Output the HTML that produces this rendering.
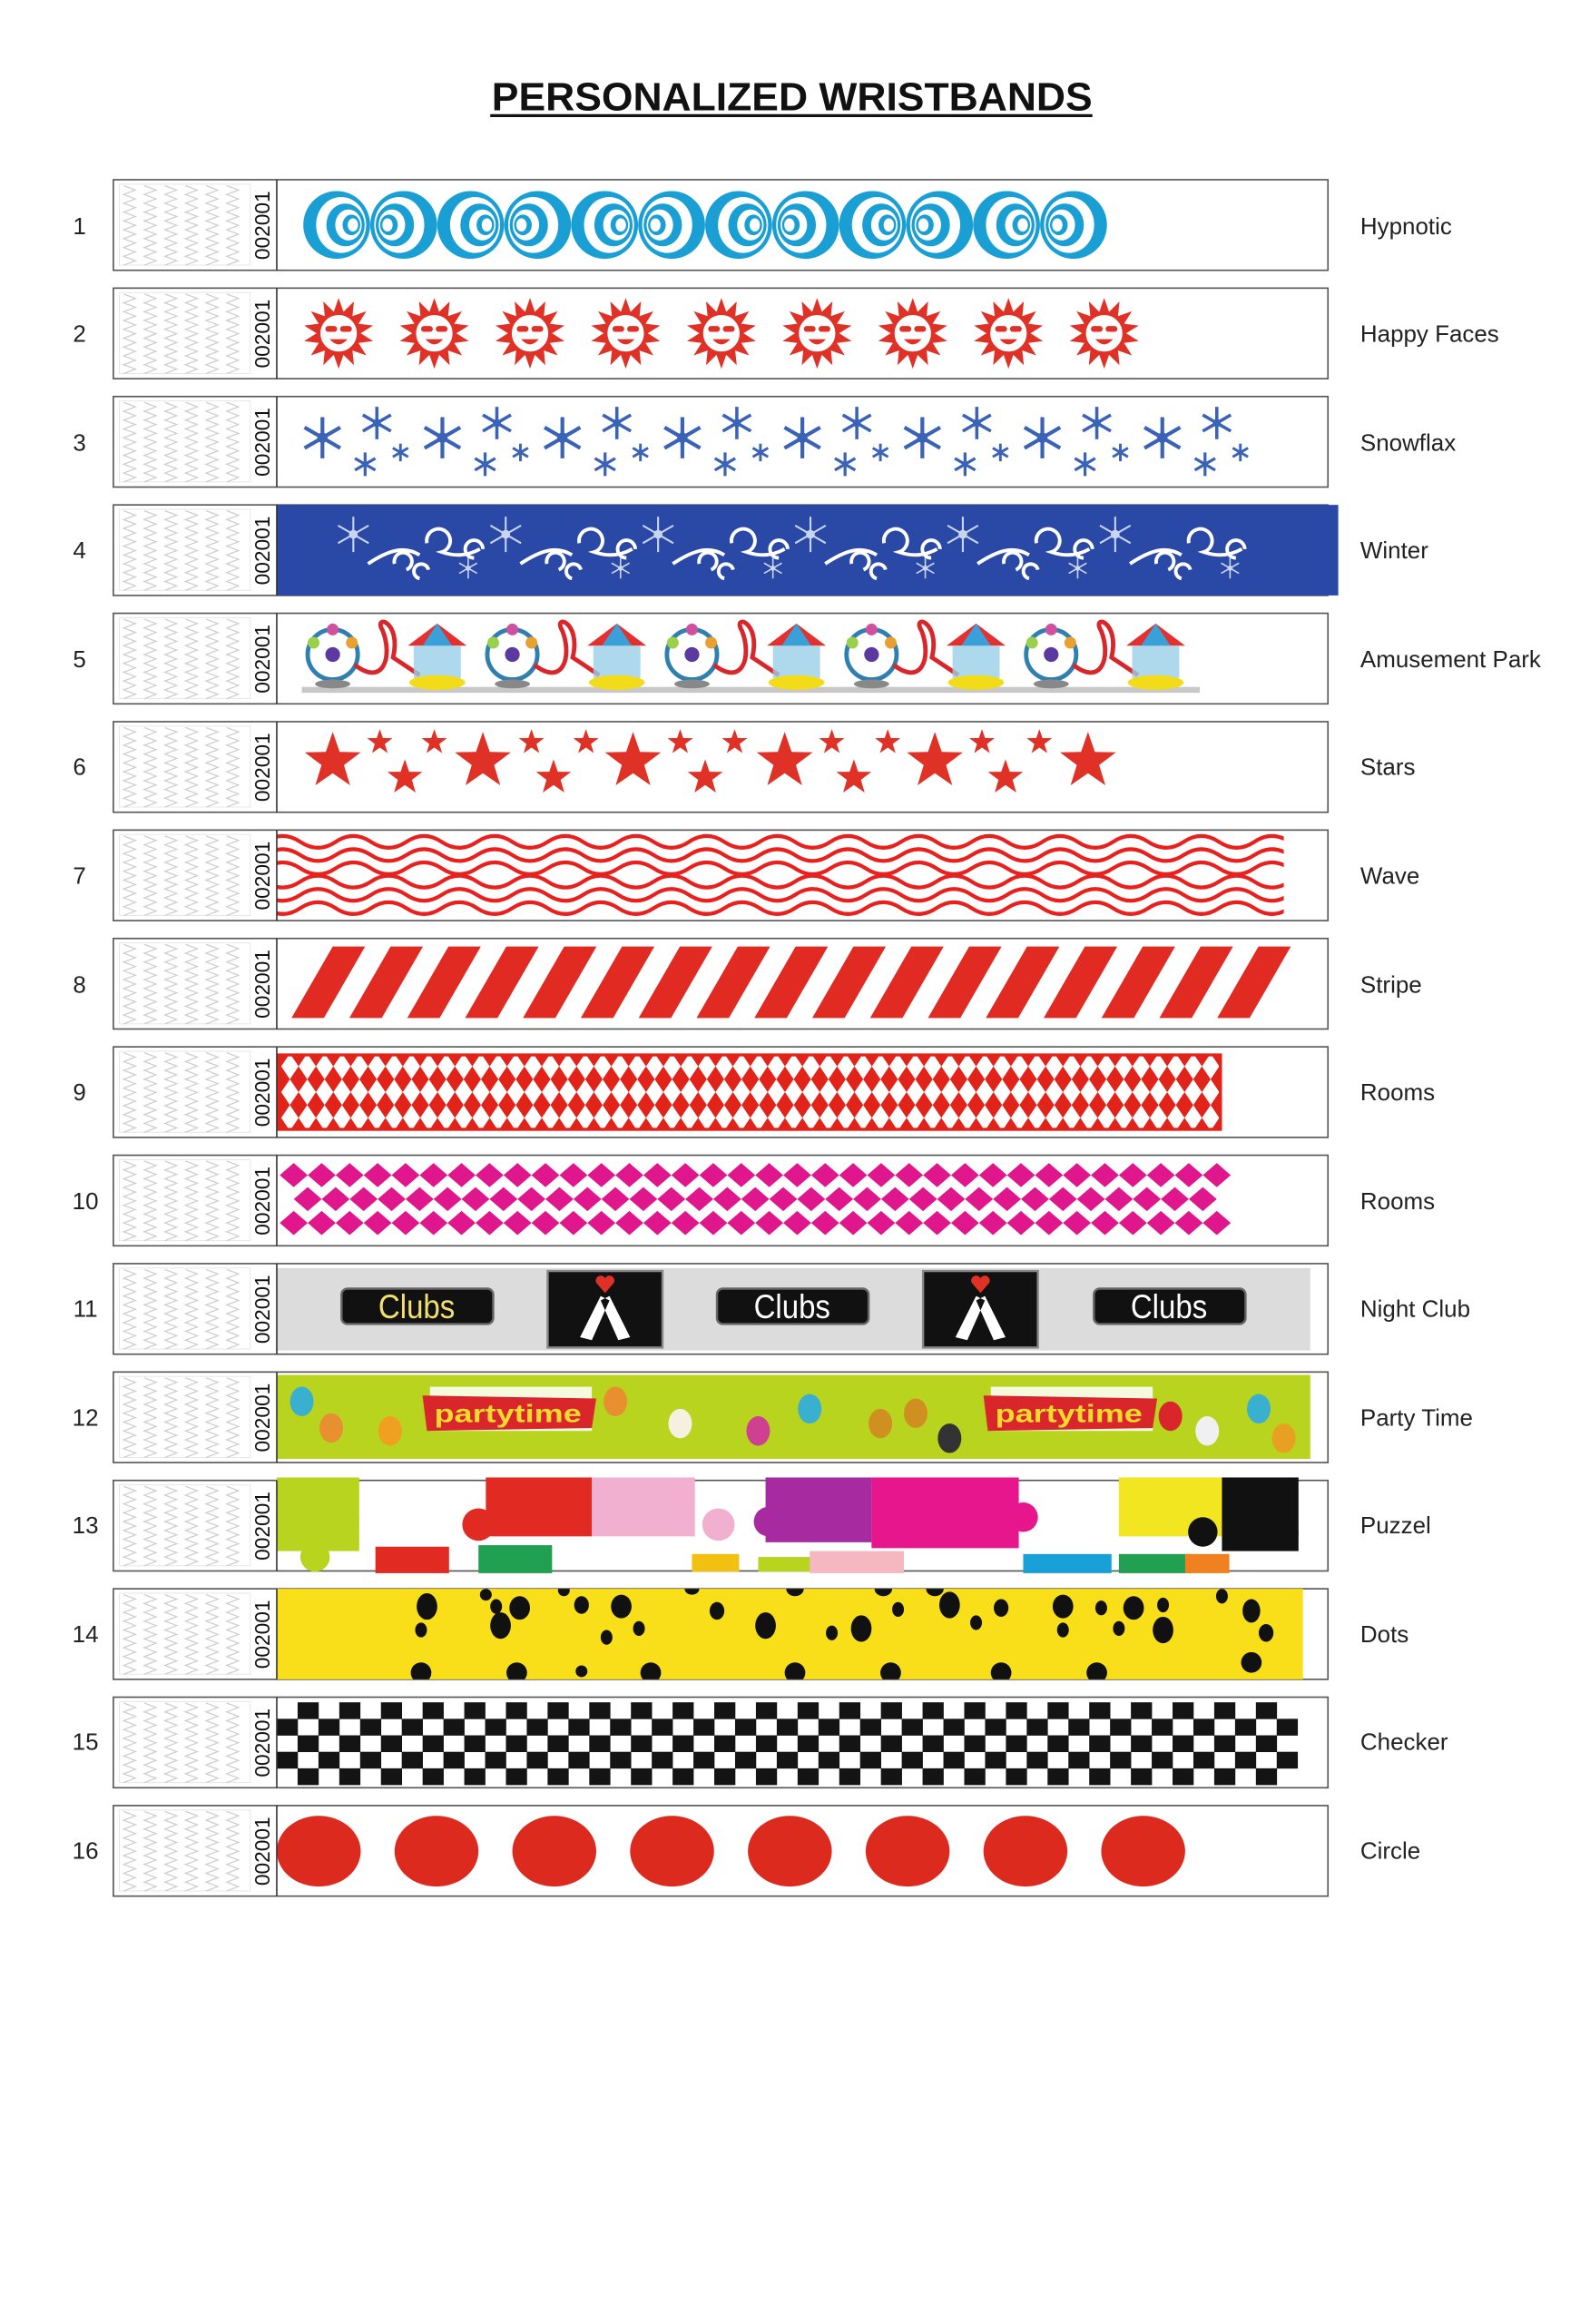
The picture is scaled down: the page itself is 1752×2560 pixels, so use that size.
<!DOCTYPE html>
<html><head><meta charset="utf-8"><style>
html,body{margin:0;padding:0;background:#fff;}
svg{display:block;}
text{font-family:"Liberation Sans",Arial,sans-serif;}
</style></head><body>
<svg id="s" xmlns="http://www.w3.org/2000/svg" width="1752" height="2560" viewBox="0 0 1080 1578">
<rect width="1080" height="1578" fill="#fff"/>
<text x="538" y="75" font-size="27" font-weight="bold" text-anchor="middle" fill="#111" textLength="408" lengthAdjust="spacingAndGlyphs">PERSONALIZED WRISTBANDS</text>
<line x1="333" y1="78.5" x2="742" y2="78.5" stroke="#111" stroke-width="2"/>
<g id="rows"></g>
<g font-size="16" fill="#222">
<text x="54" y="159" text-anchor="middle">1</text><text x="924" y="159">Hypnotic</text>
<text x="54" y="232" text-anchor="middle">2</text><text x="924" y="232">Happy Faces</text>
<text x="54" y="306" text-anchor="middle">3</text><text x="924" y="306">Snowflax</text>
<text x="54" y="379" text-anchor="middle">4</text><text x="924" y="379">Winter</text>
<text x="54" y="453" text-anchor="middle">5</text><text x="924" y="453">Amusement Park</text>
<text x="54" y="526" text-anchor="middle">6</text><text x="924" y="526">Stars</text>
<text x="54" y="600" text-anchor="middle">7</text><text x="924" y="600">Wave</text>
<text x="54" y="674" text-anchor="middle">8</text><text x="924" y="674">Stripe</text>
<text x="54" y="747" text-anchor="middle">9</text><text x="924" y="747">Rooms</text>
<text x="58" y="821" text-anchor="middle">10</text><text x="924" y="821">Rooms</text>
<text x="58" y="894" text-anchor="middle">11</text><text x="924" y="894">Night Club</text>
<text x="58" y="968" text-anchor="middle">12</text><text x="924" y="968">Party Time</text>
<text x="58" y="1041" text-anchor="middle">13</text><text x="924" y="1041">Puzzel</text>
<text x="58" y="1115" text-anchor="middle">14</text><text x="924" y="1115">Dots</text>
<text x="58" y="1188" text-anchor="middle">15</text><text x="924" y="1188">Checker</text>
<text x="58" y="1262" text-anchor="middle">16</text><text x="924" y="1262">Circle</text>
</g>
<g id="nums" font-size="14" fill="#111">
<text transform="translate(183,153) rotate(-90)" text-anchor="middle">002001</text>
<text transform="translate(183,226.6) rotate(-90)" text-anchor="middle">002001</text>
<text transform="translate(183,300.2) rotate(-90)" text-anchor="middle">002001</text>
<text transform="translate(183,373.8) rotate(-90)" text-anchor="middle">002001</text>
<text transform="translate(183,447.4) rotate(-90)" text-anchor="middle">002001</text>
<text transform="translate(183,521) rotate(-90)" text-anchor="middle">002001</text>
<text transform="translate(183,594.6) rotate(-90)" text-anchor="middle">002001</text>
<text transform="translate(183,668.2) rotate(-90)" text-anchor="middle">002001</text>
<text transform="translate(183,741.8) rotate(-90)" text-anchor="middle">002001</text>
<text transform="translate(183,815.4) rotate(-90)" text-anchor="middle">002001</text>
<text transform="translate(183,889) rotate(-90)" text-anchor="middle">002001</text>
<text transform="translate(183,962.6) rotate(-90)" text-anchor="middle">002001</text>
<text transform="translate(183,1036.2) rotate(-90)" text-anchor="middle">002001</text>
<text transform="translate(183,1109.8) rotate(-90)" text-anchor="middle">002001</text>
<text transform="translate(183,1183.4) rotate(-90)" text-anchor="middle">002001</text>
<text transform="translate(183,1257) rotate(-90)" text-anchor="middle">002001</text>
</g>
</svg>
<script>
var rows=document.getElementById('rows');
var H=61.5,T0=122,P=73.6;
var out='';
function star(cx,cy,r,n,ir){var s='';n=n||5;ir=ir||r*0.4;for(var k=0;k<2*n;k++){var a=-Math.PI/2+k*Math.PI/n;var rr=k%2?ir:r;s+=(cx+rr*Math.cos(a)).toFixed(1)+','+(cy+rr*Math.sin(a)).toFixed(1)+' ';}return s;}
function flake(cx,cy,r,c,w){var s='';for(var k=0;k<3;k++){var a=k*Math.PI/3+Math.PI/2;var dx=r*Math.cos(a),dy=r*Math.sin(a);s+='<line x1="'+(cx-dx)+'" y1="'+(cy-dy)+'" x2="'+(cx+dx)+'" y2="'+(cy+dy)+'" stroke="'+c+'" stroke-width="'+w+'"/>';}s+='<circle cx="'+cx+'" cy="'+cy+'" r="'+(r*0.25)+'" fill="'+c+'"/>';return s;}
function dia(cx,cy,hw,hh,c){return '<polygon points="'+(cx-hw)+','+cy+' '+cx+','+(cy-hh)+' '+(cx+hw)+','+cy+' '+cx+','+(cy+hh)+'" fill="'+c+'"/>';}
var pats=[];
pats[1]=function(){var s='';for(var p=0;p<6;p++){var x0=206+p*91;[[x0+22.7,1],[x0+68.2,-1]].forEach(function(e){var cx=e[0],d=e[1];var L=[[22.7,23,0,'#1a9fd4'],[17,19,3,'#fff'],[13,14.5,6,'#1a9fd4'],[9,10.5,8,'#fff'],[6,7,10,'#1a9fd4'],[3.5,4.5,11,'#fff']];L.forEach(function(l){s+='<ellipse cx="'+(cx+d*l[2])+'" cy="30.7" rx="'+l[0]+'" ry="'+l[1]+'" fill="'+l[3]+'"/>';});});}return s;};
pats[2]=function(){var s='';for(var k=0;k<9;k++){var cx=230+k*65,cy=30.7;s+='<polygon points="'+star(cx,cy,24,14,15)+'" fill="#e03127"/><circle cx="'+cx+'" cy="'+cy+'" r="13" fill="#fff" stroke="#e03127" stroke-width="1.2"/><rect x="'+(cx-9)+'" y="'+(cy-5)+'" width="8" height="4" rx="2" fill="#e03127"/><rect x="'+(cx+1)+'" y="'+(cy-5)+'" width="8" height="4" rx="2" fill="#e03127"/><path d="M'+(cx-6)+' '+(cy+4)+' Q'+cx+' '+(cy+11)+' '+(cx+6)+' '+(cy+4)+'" fill="#e03127"/>';}return s;};
pats[3]=function(){var s='',c='#3a63b8';for(var k=0;k<8;k++){var x=219+k*81.5;s+=flake(x,28,14,c,2.6);s+=flake(x+37,18,11,c,2.2);s+=flake(x+29,46,8,c,2);s+=flake(x+53,38,6,c,1.8);}return s;};
pats[4]=function(){var s='<rect x="188" y="0" width="721" height="'+H+'" fill="#2a48a6"/>';for(var k=0;k<6;k++){var x=240+k*103.5;s+=flake(x,20,12,'#c8d4f0',1.3);s+=flake(x+78,43,7,'#c8d4f0',1);s+='<path d="M'+(x+10)+' 40 C'+(x+25)+' 30 '+(x+35)+' 28 '+(x+45)+' 34 M'+(x+28)+' 40 a6 6 0 1 1 8 4 M'+(x+50)+' 26 a8 8 0 1 1 10 6 C'+(x+66)+' 34 '+(x+75)+' 36 '+(x+86)+' 30 M'+(x+82)+' 36 a6 6 0 1 1 6 -6 M'+(x+45)+' 50 a5 5 0 1 1 6 -6" fill="none" stroke="#fff" stroke-width="2.4"/>';}return s;};
pats[5]=function(){var s='<rect x="205" y="50" width="610" height="4" fill="#c8c8c8"/>';for(var k=0;k<5;k++){var x=205+k*122;s+='<circle cx="'+(x+21)+'" cy="28" r="17" fill="none" stroke="#2f7fb0" stroke-width="3"/><circle cx="'+(x+21)+'" cy="28" r="5" fill="#5a3aa0"/><circle cx="'+(x+8)+'" cy="20" r="4" fill="#9ad04a"/><circle cx="'+(x+34)+'" cy="20" r="4" fill="#e8a030"/><circle cx="'+(x+21)+'" cy="11" r="4" fill="#d050a0"/><ellipse cx="'+(x+21)+'" cy="48" rx="12" ry="3" fill="#888"/>'+'<path d="M'+(x+36)+' 35 C'+(x+55)+' 50 '+(x+62)+' 30 '+(x+55)+' 12 C'+(x+48)+' 0 '+(x+68)+' 5 '+(x+62)+' 30 L'+(x+80)+' 42" fill="none" stroke="#d8262b" stroke-width="3"/>';var c=x+92;s+='<path d="M'+(c-20)+' 22 L'+c+' 7 L'+(c+20)+' 22 Z" fill="#e53030"/><path d="M'+(c-10)+' 22 L'+c+' 7 L'+(c+10)+' 22 Z" fill="#3aa0d8"/><rect x="'+(c-16)+'" y="22" width="32" height="22" fill="#9ad0e8" opacity=".8"/><ellipse cx="'+c+'" cy="47" rx="19" ry="5" fill="#f2dc1a"/>';}return s;};
pats[6]=function(){var s='',c='#e03127';[226,328,430,533,635,739].forEach(function(x){s+='<polygon points="'+star(x,27,20,5,8)+'" fill="'+c+'"/>';});[258,295,361,398,462,499,565,603,667,706].forEach(function(x){s+='<polygon points="'+star(x,14,9,5,3.6)+'" fill="'+c+'"/>';});[275,376,479,580,683].forEach(function(x){s+='<polygon points="'+star(x,38,12.5,5,5)+'" fill="'+c+'"/>';});return s;};
pats[7]=function(){var s='<clipPath id="wc"><rect x="188" y="2" width="684" height="58"/></clipPath><g clip-path="url(#wc)">';var ys=[8,17,26,35,44,53];for(var j=0;j<6;j++){var y=ys[j],sg=(j<3)?1:-1,d='M180 '+y;for(var x=180;x<900;x+=48){d+=' q12 '+(-8*sg)+' 24 0 t24 0';}s+='<path d="'+d+'" fill="none" stroke="#e8201e" stroke-width="2.6"/>';}return s+'</g>';};
pats[8]=function(){var s='';for(var k=0;k<17;k++){var x=198+k*39.3;s+='<polygon points="'+x+',54 '+(x+22)+',54 '+(x+50)+',5.5 '+(x+28)+',5.5" fill="#e02a22"/>';}return s;};
pats[9]=function(){var s='<rect x="188" y="4.5" width="642" height="52.5" fill="#e2231a"/>';var hw=5.9,hh=8.75;[13.25,30.75,48.25].forEach(function(y){for(var x=191;x+2*hw<829;x+=2*hw){s+=dia(x+hw,y,hw,hh,'#fff');}});s+='<rect x="189" y="5.5" width="640" height="50.5" fill="none" stroke="#e2231a" stroke-width="2"/>';return s;};
pats[10]=function(){var s='';var hw=9.5,hh=8.2;var rs=[[13.5,0],[29.8,hw],[46,0]];rs.forEach(function(r){for(var x=190+r[1];x<825;x+=2*hw){s+=dia(x+hw,r[0],hw,hh,'#e0168c');}});return s;};
pats[11]=function(){var s='<rect x="188" y="3" width="702" height="56" fill="#dcdcdc"/>';[[232,'#f0e070'],[487,'#fff'],[743,'#fff']].forEach(function(b){s+='<rect x="'+b[0]+'" y="17" width="103" height="24" rx="4" fill="#111" stroke="#666" stroke-width="1.5"/><text x="'+(b[0]+51)+'" y="37" text-anchor="middle" font-family="Liberation Serif,serif" font-size="23" fill="'+b[1]+'" textLength="52" lengthAdjust="spacingAndGlyphs">Clubs</text>';});[372,627].forEach(function(x){s+='<rect x="'+x+'" y="5" width="78" height="52" fill="#111" stroke="#888" stroke-width="1.5"/><path d="M'+(x+22)+' 50 L'+(x+36)+' 22 L'+(x+42)+' 25 L'+(x+30)+' 52 Z M'+(x+56)+' 50 L'+(x+42)+' 22 L'+(x+36)+' 25 L'+(x+48)+' 52 Z" fill="#fff"/><path d="M'+(x+39)+' 20 l-6 -7 a3 3 0 0 1 6 -3 a3 3 0 0 1 6 3 z" fill="#e03127"/>';});return s;};
pats[12]=function(){var s='<rect x="188" y="2" width="702" height="57" fill="#b8d41e"/>';[287,668].forEach(function(x){s+='<rect x="'+(x+5)+'" y="10" width="110" height="30" fill="#fff" opacity=".85"/><polygon points="'+x+',16 '+(x+118)+',18 '+(x+115)+',38 '+(x+3)+',40" fill="#d8262b"/><text x="'+(x+58)+'" y="34" text-anchor="middle" font-size="17" font-weight="bold" fill="#f5d830" textLength="100" lengthAdjust="spacingAndGlyphs">partytime</text>';});var items=[[205,20,'#3ab0d0'],[225,38,'#e89030'],[265,40,'#f0a020'],[418,20,'#e89030'],[462,35,'#f5f0e0'],[515,40,'#d04090'],[550,25,'#3ab0d0'],[598,35,'#d09020'],[622,28,'#d09020'],[645,45,'#333'],[795,30,'#d8262b'],[820,40,'#f0f0f0'],[855,25,'#3ab0d0'],[872,45,'#e8a020']];items.forEach(function(i){s+='<ellipse cx="'+i[0]+'" cy="'+i[1]+'" rx="8" ry="10" fill="'+i[2]+'"/>';});return s;};
pats[13]=function(){var s='';var bl=[[188,-2,56,50,'#b8d41e'],[330,-2,72,40,'#e02a22'],[402,-2,70,40,'#f2b0d0'],[520,-2,72,44,'#a82aa0'],[592,-2,100,48,'#e8168c'],[760,-2,70,40,'#f2e620'],[830,-2,52,50,'#111'],[255,45,50,18,'#e02a22'],[325,44,50,19,'#20a050'],[470,50,32,12,'#f2c010'],[515,52,36,10,'#b8d41e'],[550,48,64,15,'#f5b8c0'],[695,50,60,13,'#1aa0d8'],[760,50,50,13,'#20a050'],[805,50,30,13,'#f08020']];bl.forEach(function(b){s+='<rect x="'+b[0]+'" y="'+b[1]+'" width="'+b[2]+'" height="'+b[3]+'" fill="'+b[4]+'"/>';});s+='<circle cx="232" cy="26" r="12" fill="#b8d41e"/><circle cx="214" cy="52" r="10" fill="#b8d41e"/><circle cx="325" cy="30" r="11" fill="#e02a22"/><circle cx="488" cy="30" r="11" fill="#f2b0d0"/><circle cx="522" cy="28" r="10" fill="#a82aa0"/><circle cx="695" cy="25" r="10" fill="#e8168c"/><circle cx="873" cy="36" r="9" fill="#111"/><circle cx="817" cy="35" r="10" fill="#111"/>';return s;};
pats[14]=function(){var s='<rect x="188" y="0" width="697" height="'+H+'" fill="#f9de1a"/><clipPath id="dc"><rect x="188" y="0" width="697" height="'+H+'"/></clipPath><g clip-path="url(#dc)" fill="#111">';var D=[[290,12,7,9],[337,12,4,5],[353,13,7,8],[383,1,4,4],[395,11,5,6],[422,12,7,8],[470,0,5,4],[487,15,5,6],[286,28,4,5],[340,25,7,9],[412,33,4,5],[434,27,4,5],[520,25,7,9],[565,30,4,5],[585,27,7,9],[610,14,4,5],[645,11,7,9],[663,23,4,5],[680,13,5,6],[722,12,7,8],[748,13,4,5],[770,13,7,8],[790,11,4,5],[790,28,7,9],[722,28,4,5],[760,27,4,5],[286,57,7,7],[351,57,7,7],[395,56,4,4],[442,57,7,7],[540,57,7,7],[605,57,7,7],[680,57,7,7],[745,57,7,7],[330,4,4,4],[540,0,6,5],[600,0,6,5],[635,0,6,5],[830,5,4,5],[850,15,6,8],[860,30,5,6],[850,50,7,7]];D.forEach(function(d){s+='<ellipse cx="'+d[0]+'" cy="'+d[1]+'" rx="'+d[2]+'" ry="'+d[3]+'"/>';});return s+'</g>';};
pats[15]=function(){var s='',w=14.15,h=11.2;for(var r=0;r<5;r++){for(var c=0;c<50;c++){var x=188+c*w;if(x+w>891)break;if((r+c)%2==1)s+='<rect x="'+x.toFixed(2)+'" y="'+(3.5+r*h).toFixed(2)+'" width="'+(w+0.2).toFixed(2)+'" height="'+(h+0.2)+'" fill="#141414"/>';}}return s;};
pats[16]=function(){var s='';for(var k=0;k<8;k++){s+='<ellipse cx="'+(216.5+k*80)+'" cy="31" rx="28.5" ry="24" fill="#dd2a1f"/>';}return s;};
for(var i=1;i<=16;i++){var t=T0+(i-1)*P;var g='<g transform="translate(0,'+t.toFixed(2)+')"><rect x="77" y="0" width="825" height="'+H+'" fill="#fff" stroke="#555" stroke-width="1"/>';
var z='';for(var c=0;c<6;c++){var x=84+c*14;var d='M'+x+' 4';for(var y=4;y<56;y+=6){d+=' l8 3 l-8 3';}z+='<path d="'+d+'" fill="none" stroke="#cfcfcf" stroke-width="0.8"/>';}
g+='<rect x="81" y="3" width="89" height="55" fill="none" stroke="#e6e6e6" stroke-width="0.6"/>'+z;
g+=pats[i]();
g+='<line x1="188" y1="0" x2="188" y2="'+H+'" stroke="#333" stroke-width="1"/></g>';out+=g;}
rows.innerHTML=out;
</script>
</body></html>
